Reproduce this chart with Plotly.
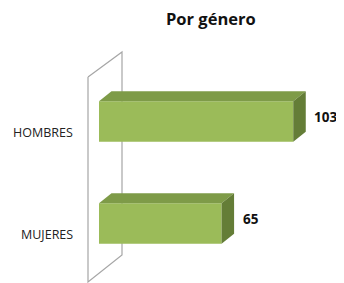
import plotly.graph_objects as go

# ---- data ----
categories = ["MUJERES", "HOMBRES"]
values = [65, 103]
title_text = "Por género"

# ---- layout geometry (screen pixels) ----
W, H = 344, 283
OFF = 8               # page body margin offset
X0_PX = 99.0          # pixel of value 0 (front face)
PX_PER_UNIT = 1.886   # pixels per value unit
Y0_PX = 223.5         # pixel of category index 0 (front face center)
PX_PER_CAT = 102.0
BAR_H_PX = 40.5
DEPTH_X_PX = 12.5
DEPTH_Y_PX = 10.0
LABEL_GAP_PX = 6.5

FW, FH = W - OFF, H - OFF


def px2x(px):
    return (px - X0_PX) / PX_PER_UNIT


def px2y(py):
    return (Y0_PX - py) / PX_PER_CAT


dx = DEPTH_X_PX / PX_PER_UNIT
dy = DEPTH_Y_PX / PX_PER_CAT
bh = BAR_H_PX / PX_PER_CAT

FRONT = "#9BBB59"
TOP = "#7E9B48"
SIDE = "#647D37"

fig = go.Figure()

ypos = list(range(len(categories)))

# front faces
fig.add_trace(go.Bar(
    x=values, y=ypos, base=0, orientation="h", width=bh,
    marker=dict(color=FRONT, line=dict(width=0)),
    hoverinfo="skip", showlegend=False,
))

# top and side faces
for yc, v in zip(ypos, values):
    yt = yc + bh / 2
    yb = yc - bh / 2
    fig.add_trace(go.Scatter(
        x=[0, v, v + dx, dx, 0], y=[yt, yt, yt + dy, yt + dy, yt],
        fill="toself", fillcolor=TOP, mode="lines", line=dict(width=0),
        hoverinfo="skip", showlegend=False,
    ))
    fig.add_trace(go.Scatter(
        x=[v, v + dx, v + dx, v, v], y=[yb, yb + dy, yt + dy, yt, yb],
        fill="toself", fillcolor=SIDE, mode="lines", line=dict(width=0),
        hoverinfo="skip", showlegend=False,
    ))
    # value label
    fig.add_annotation(
        x=v + dx + LABEL_GAP_PX / PX_PER_UNIT, y=yc + dy / 2,
        text="<b>%d</b>" % v, showarrow=False, xanchor="left", yanchor="middle",
        font=dict(family="Open Sans", size=13.5, color="#111111"),
    )

# category labels
for yc, c in zip(ypos, categories):
    fig.add_annotation(
        x=px2x(75), y=yc - 11 / PX_PER_CAT, text=c, showarrow=False,
        xanchor="right", yanchor="middle",
        font=dict(family="Open Sans", size=12.5, color="#222222"),
    )

# side wall (3D axis wall)
wall_x = [px2x(88), px2x(122), px2x(122), px2x(88), px2x(88)]
wall_y = [px2y(77), px2y(52), px2y(255), px2y(282), px2y(77)]
path = "M " + " L ".join(f"{a},{b}" for a, b in zip(wall_x, wall_y))
fig.add_shape(type="path", path=path, xref="x", yref="y", layer="below",
              line=dict(color="#A6A6A6", width=1.2))

fig.add_annotation(
    x=px2x(210.5), y=px2y(18), text="<b>%s</b>" % title_text, showarrow=False,
    xanchor="center", yanchor="middle",
    font=dict(family="Open Sans", size=16.5, color="#111111"),
)

fig.update_layout(
    width=FW, height=FH, margin=dict(l=0, r=0, t=0, b=0),
    paper_bgcolor="white", plot_bgcolor="white",
    xaxis=dict(range=[px2x(OFF), px2x(OFF + FW)], visible=False, fixedrange=True),
    yaxis=dict(range=[px2y(OFF + FH), px2y(OFF)], visible=False, fixedrange=True),
    showlegend=False,
)

fig.write_html(
    "out.html",
    post_script="document.documentElement.style.overflow='hidden';"
                "document.body.style.overflow='hidden';",
)
